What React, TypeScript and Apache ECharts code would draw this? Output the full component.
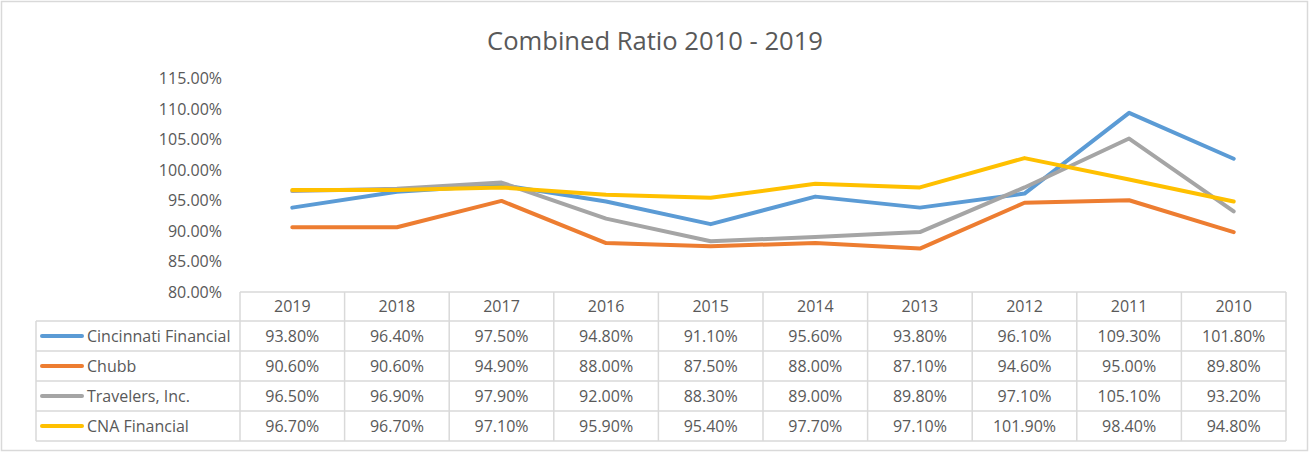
import React, { useEffect, useRef } from "react";
import * as echarts from "echarts";

const categories = ["2019", "2018", "2017", "2016", "2015", "2014", "2013", "2012", "2011", "2010"];
const seriesNames = ["Cincinnati Financial", "Chubb", "Travelers, Inc.", "CNA Financial"];
const cincinnati = [93.8, 96.4, 97.5, 94.8, 91.1, 95.6, 93.8, 96.1, 109.3, 101.8];
const chubb = [90.6, 90.6, 94.9, 88.0, 87.5, 88.0, 87.1, 94.6, 95.0, 89.8];
const travelers = [96.5, 96.9, 97.9, 92.0, 88.3, 89.0, 89.8, 97.1, 105.1, 93.2];
const cna = [96.7, 96.7, 97.1, 95.9, 95.4, 97.7, 97.1, 101.9, 98.4, 94.8];
const colors = ["#5B9BD5", "#ED7D31", "#A5A5A5", "#FFC000"];

const W = 1310;
const H = 452;
const GRID_LEFT = 240;
const GRID_RIGHT_X = 1286;
const GRID_TOP = 78;
const GRID_BOTTOM_Y = 292;
const HEADER_H = 29;
const ROW_H = 30;
const LEGEND_LEFT = 36;
const FONT = "'Open Sans', 'Noto Sans', sans-serif";
const TEXT_COLOR = "#595959";
const BORDER = "#D9D9D9";

export default function App() {
  const ref = useRef<HTMLDivElement>(null);
  useEffect(() => {
    if (!ref.current) return;
    const chart = echarts.init(ref.current, undefined, { renderer: "svg" });
    const data = [cincinnati, chubb, travelers, cna];
    const colW = (GRID_RIGHT_X - GRID_LEFT) / categories.length;
    const rowsTop = GRID_BOTTOM_Y + HEADER_H;
    const tableBottom = rowsTop + ROW_H * data.length;

    const graphics: any[] = [];
    graphics.push({
      type: "rect",
      shape: { x: 1.5, y: 1.5, width: W - 4, height: H - 3 },
      style: { fill: "none", stroke: BORDER, lineWidth: 1.5 },
      silent: true,
    });
    graphics.push({
      type: "line",
      shape: { x1: GRID_LEFT, y1: GRID_BOTTOM_Y, x2: GRID_RIGHT_X, y2: GRID_BOTTOM_Y },
      style: { stroke: BORDER, lineWidth: 1.5 },
    });
    for (let r = 0; r <= data.length; r++) {
      const y = rowsTop + r * ROW_H;
      graphics.push({
        type: "line",
        shape: { x1: LEGEND_LEFT, y1: y, x2: GRID_RIGHT_X, y2: y },
        style: { stroke: BORDER, lineWidth: 1.5 },
      });
    }
    graphics.push({
      type: "line",
      shape: { x1: LEGEND_LEFT, y1: rowsTop, x2: LEGEND_LEFT, y2: tableBottom },
      style: { stroke: BORDER, lineWidth: 1.5 },
    });
    for (let c = 0; c <= categories.length; c++) {
      const x = GRID_LEFT + c * colW;
      graphics.push({
        type: "line",
        shape: { x1: x, y1: GRID_BOTTOM_Y, x2: x, y2: tableBottom },
        style: { stroke: BORDER, lineWidth: 1.5 },
      });
    }
    data.forEach((vals, r) => {
      const cy = rowsTop + r * ROW_H + ROW_H / 2;
      graphics.push({
        type: "line",
        shape: { x1: 42, y1: cy, x2: 82, y2: cy },
        style: { stroke: colors[r], lineWidth: 4, lineCap: "round" },
      });
      graphics.push({
        type: "text",
        x: 87,
        y: cy,
        style: {
          text: seriesNames[r],
          fill: TEXT_COLOR,
          font: `16px ${FONT}`,
          verticalAlign: "middle",
          align: "left",
        },
      });
      vals.forEach((v, c) => {
        graphics.push({
          type: "text",
          x: GRID_LEFT + (c + 0.5) * colW,
          y: cy,
          style: {
            text: v.toFixed(2) + "%",
            fill: TEXT_COLOR,
            font: `16px ${FONT}`,
            verticalAlign: "middle",
            align: "center",
          },
        });
      });
    });

    chart.setOption({
      animation: false,
      backgroundColor: "#ffffff",
      title: {
        text: "Combined Ratio 2010 - 2019",
        left: "center",
        top: 22,
        textStyle: { fontFamily: FONT, fontSize: 25.6, fontWeight: "normal", color: TEXT_COLOR },
      },
      grid: {
        left: GRID_LEFT,
        right: W - GRID_RIGHT_X,
        top: GRID_TOP,
        bottom: H - GRID_BOTTOM_Y,
        containLabel: false,
      },
      xAxis: {
        type: "category",
        data: categories,
        boundaryGap: true,
        axisLine: { show: false },
        axisTick: { show: false },
        splitLine: { show: false },
        axisLabel: {
          margin: 6,
          color: TEXT_COLOR,
          fontFamily: FONT,
          fontSize: 16,
          interval: 0,
        },
      },
      yAxis: {
        type: "value",
        min: 80,
        max: 115,
        interval: 5,
        axisLine: { show: false },
        axisTick: { show: false },
        splitLine: { show: false },
        axisLabel: {
          margin: 18,
          color: TEXT_COLOR,
          fontFamily: FONT,
          fontSize: 16,
          formatter: (v: number) => v.toFixed(2) + "%",
        },
      },
      series: data.map((vals, i) => ({
        name: seriesNames[i],
        type: "line",
        data: vals,
        showSymbol: false,
        symbol: "none",
        lineStyle: { color: colors[i], width: 4, cap: "round", join: "round" },
        itemStyle: { color: colors[i] },
        z: 2 + i,
      })),
      graphic: graphics,
    });
    return () => chart.dispose();
  }, []);
  return (
    <div
      ref={ref}
      style={{ position: "absolute", left: 0, top: 0, width: W, height: H }}
    />
  );
}
